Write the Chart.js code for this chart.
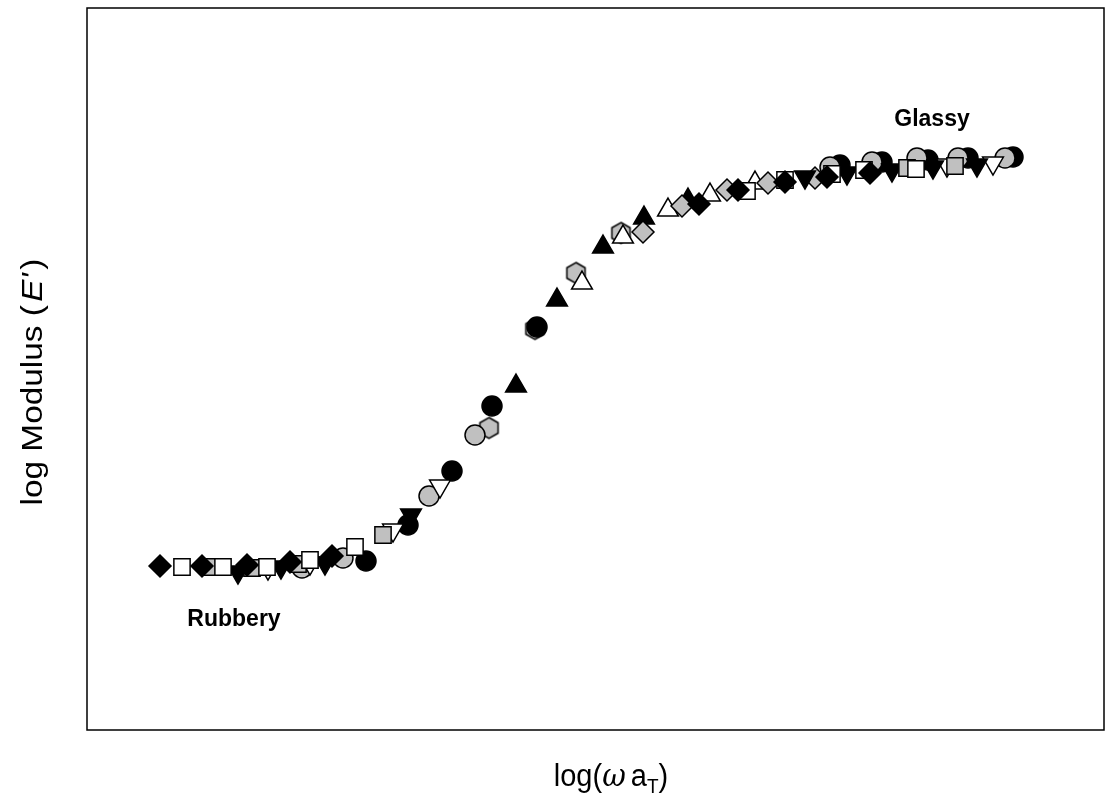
<!DOCTYPE html>
<html>
<head>
<meta charset="utf-8">
<script src="https://cdn.jsdelivr.net/npm/chart.js@4.4.1/dist/chart.umd.min.js"></script>
<style>
  html, body { margin: 0; padding: 0; background: #fff; }
  #wrap { width: 1117px; height: 812px; position: relative; }
</style>
</head>
<body>
<div id="wrap"><canvas id="chart"></canvas></div>
<script>
// master curve data, one array pair per marker type (arbitrary log units)
const blackDiamondX = [0.73, 1.15, 1.60, 2.03, 2.45, 6.12, 6.51, 6.98, 7.40, 7.83];
const blackDiamondY = [1.64, 1.64, 1.65, 1.68, 1.74, 5.26, 5.40, 5.48, 5.53, 5.57];

const whiteSquareX = [0.95, 1.36, 1.80, 2.23, 2.68, 6.60, 6.98, 7.45, 7.77, 8.29];
const whiteSquareY = [1.63, 1.63, 1.63, 1.70, 1.83, 5.39, 5.50, 5.56, 5.60, 5.61];

const graySquareX = [1.24, 1.65, 2.11, 2.96, 8.20, 8.68];
const graySquareY = [1.63, 1.62, 1.66, 1.95, 5.62, 5.64];

const blackCircleX = [2.79, 3.21, 3.65, 4.05, 4.50, 7.53, 7.95, 8.41, 8.81, 9.26];
const blackCircleY = [1.69, 2.05, 2.59, 3.24, 4.03, 5.65, 5.68, 5.70, 5.72, 5.73];

const grayCircleX = [2.15, 2.56, 3.42, 3.88, 7.43, 7.85, 8.30, 8.71, 9.18];
const grayCircleY = [1.62, 1.72, 2.34, 2.95, 5.63, 5.68, 5.72, 5.72, 5.72];

const whiteTriangleX = [4.95, 5.36, 5.81, 6.23, 6.68];
const whiteTriangleY = [4.47, 4.93, 5.20, 5.35, 5.47];

const blackTriangleX = [4.29, 4.70, 5.16, 5.57, 6.01];
const blackTriangleY = [3.44, 4.30, 4.83, 5.12, 5.30];

const blackInvTriangleX = [1.51, 1.94, 2.38, 3.24, 7.18, 7.60, 8.05, 8.46, 8.90];
const blackInvTriangleY = [1.58, 1.63, 1.67, 2.15, 5.53, 5.57, 5.60, 5.63, 5.65];

const whiteInvTriangleX = [1.81, 2.23, 3.06, 3.53, 8.60, 9.06];
const whiteInvTriangleY = [1.62, 1.67, 2.00, 2.44, 5.65, 5.67];

const grayHexagonX = [4.02, 4.48, 4.89, 5.34];
const grayHexagonY = [3.02, 4.01, 4.57, 4.97];

const grayDiamondX = [5.56, 5.95, 6.40, 6.81, 7.28];
const grayDiamondY = [4.98, 5.24, 5.40, 5.47, 5.52];

// region labels inside the plot
const regionLabels = ['Glassy', 'Rubbery'];
const regionLabelX = [8.45, 1.47];
const regionLabelY = [6.10, 1.10];

const xRange = [0, 10.17];
const yRange = [0, 7.22];

const GRAY = '#c0c0c0';

function pts(xs, ys) {
    return xs.map((x, i) => ({ x: x, y: ys[i] }));
}

// hexagon marker (not built into Chart.js)
function hexagon(size, fill) {
    const c = document.createElement('canvas');
    c.width = size + 4;
    c.height = size + 4;
    const g = c.getContext('2d');
    const r = size / 2;
    const cx = c.width / 2, cy = c.height / 2;
    g.beginPath();
    for (let i = 0; i < 6; i++) {
        const a = Math.PI / 3 * i - Math.PI / 2;
        const px = cx + r * Math.cos(a), py = cy + r * Math.sin(a);
        if (i === 0) g.moveTo(px, py); else g.lineTo(px, py);
    }
    g.closePath();
    g.fillStyle = fill;
    g.fill();
    g.lineWidth = 1.5;
    g.strokeStyle = '#000';
    g.stroke();
    return c;
}

function series(label, data, style, fill, radius, rotation) {
    return {
        label: label,
        data: data,
        pointStyle: style,
        pointRadius: radius,
        pointHoverRadius: radius,
        pointRotation: rotation || 0,
        backgroundColor: fill,
        borderColor: '#000',
        pointBorderWidth: 1.5,
        showLine: false
    };
}

// first dataset is drawn on top
const datasets = [
    series('black diamond', pts(blackDiamondX, blackDiamondY), 'rectRot', '#000', 11),
    series('white square', pts(whiteSquareX, whiteSquareY), 'rect', '#fff', 11.5),
    series('gray square', pts(graySquareX, graySquareY), 'rect', GRAY, 11.5),
    series('black inverted triangle', pts(blackInvTriangleX, blackInvTriangleY), 'triangle', '#000', 12, 180),
    series('white inverted triangle', pts(whiteInvTriangleX, whiteInvTriangleY), 'triangle', '#fff', 12, 180),
    series('gray circle', pts(grayCircleX, grayCircleY), 'circle', GRAY, 10),
    series('black circle', pts(blackCircleX, blackCircleY), 'circle', '#000', 10),
    series('gray diamond', pts(grayDiamondX, grayDiamondY), 'rectRot', GRAY, 11),
    series('black triangle', pts(blackTriangleX, blackTriangleY), 'triangle', '#000', 12),
    series('white triangle', pts(whiteTriangleX, whiteTriangleY), 'triangle', '#fff', 12),
    series('gray hexagon', pts(grayHexagonX, grayHexagonY), hexagon(21, GRAY), GRAY, 11)
];

const FONT = '"Liberation Sans", Arial, Helvetica, sans-serif';

function drawParts(ctx, parts, x, y) {
    // measure first so the whole string is centred on x
    let total = 0;
    parts.forEach(p => { ctx.font = p.font; total += ctx.measureText(p.text).width + (p.gap || 0); });
    let cx = x - total / 2;
    parts.forEach(p => {
        ctx.font = p.font;
        ctx.fillText(p.text, cx + (p.gap || 0), y + (p.dy || 0));
        cx += ctx.measureText(p.text).width + (p.gap || 0);
    });
}

const decorations = {
    id: 'decorations',
    afterDraw(chart) {
        const ctx = chart.ctx;
        const a = chart.chartArea;
        const xs = chart.scales.x, ys = chart.scales.y;
        ctx.save();

        // plot frame
        ctx.strokeStyle = '#000';
        ctx.lineWidth = 1.5;
        ctx.strokeRect(a.left, a.top, a.right - a.left, a.bottom - a.top);

        ctx.fillStyle = '#000';
        ctx.textBaseline = 'middle';
        ctx.textAlign = 'center';

        // region labels
        ctx.font = 'bold 23px ' + FONT;
        regionLabels.forEach((t, i) => {
            ctx.fillText(t, xs.getPixelForValue(regionLabelX[i]), ys.getPixelForValue(regionLabelY[i]));
        });

        ctx.textAlign = 'left';
        ctx.textBaseline = 'alphabetic';

        // x axis title: log(ω aT)
        const reg = '29px ' + FONT;
        ctx.save();
        ctx.translate(0, 786);
        ctx.scale(1, 1.1);
        drawParts(ctx, [
            { text: 'log(', font: reg },
            { text: 'ω', font: 'italic 29px "DejaVu Serif", "Liberation Serif", serif' },
            { text: 'a', font: reg, gap: 5 },
            { text: 'T', font: '19px ' + FONT, dy: 6 },
            { text: ')', font: reg }
        ], 611, 0);
        ctx.restore();

        // y axis title: log Modulus (E')
        ctx.save();
        ctx.translate(42, 382);
        ctx.rotate(-Math.PI / 2);
        ctx.scale(1.15, 1);
        drawParts(ctx, [
            { text: 'log Modulus (', font: reg },
            { text: "E'", font: 'italic 29px ' + FONT, gap: 3 },
            { text: ')', font: reg, gap: 3 }
        ], 0, 0);
        ctx.restore();

        ctx.restore();
    }
};

new Chart(document.getElementById('chart'), {
    type: 'scatter',
    data: { datasets: datasets },
    options: {
        responsive: true,
        maintainAspectRatio: false,
        animation: false,
        layout: { autoPadding: false, padding: { left: 87, top: 8, right: 13, bottom: 82 } },
        plugins: {
            legend: { display: false },
            tooltip: { enabled: false }
        },
        scales: {
            x: { type: 'linear', min: xRange[0], max: xRange[1], display: false },
            y: { type: 'linear', min: yRange[0], max: yRange[1], display: false }
        }
    },
    plugins: [decorations]
});
</script>
</body>
</html>
